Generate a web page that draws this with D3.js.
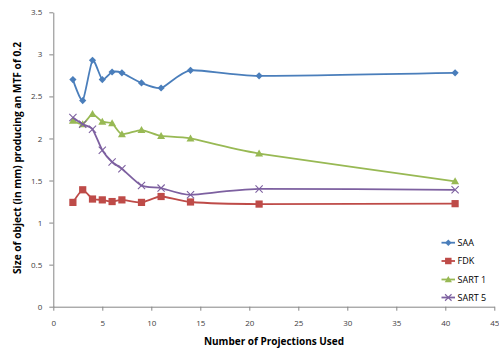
<!DOCTYPE html>
<html>
<head>
<meta charset="utf-8">
<script src="https://cdn.jsdelivr.net/npm/d3@7"></script>
<style>
  html, body { margin: 0; padding: 0; background: #fff; }
  svg { display: block; }
  text { font-family: "Open Sans", "Liberation Sans", sans-serif; }
</style>
</head>
<body>
<svg id="chart" width="499" height="356"></svg>
<script>
// Number of projections used (x values shared by every series)
const projections = [2, 3, 4, 5, 6, 7, 9, 11, 14, 21, 41];

// Object size (mm) giving an MTF of 0.2, per reconstruction method
const saa   = [2.70, 2.45, 2.93, 2.70, 2.79, 2.78, 2.66, 2.60, 2.81, 2.745, 2.78];
const fdk   = [1.24, 1.39, 1.28, 1.27, 1.25, 1.27, 1.24, 1.31, 1.245, 1.22, 1.225];
const sart1 = [2.21, 2.17, 2.29, 2.20, 2.18, 2.05, 2.10, 2.03, 2.00, 1.82, 1.49];
const sart5 = [2.25, 2.17, 2.11, 1.86, 1.72, 1.64, 1.44, 1.41, 1.33, 1.40, 1.39];

const seriesNames = ["SAA", "FDK", "SART 1", "SART 5"];
const xTicks = [0, 5, 10, 15, 20, 25, 30, 35, 40, 45];
const yTicks = [0, 0.5, 1, 1.5, 2, 2.5, 3, 3.5];

const series = [
  { name: seriesNames[0], values: saa,   color: "#4a7ebb", marker: "diamond" },
  { name: seriesNames[1], values: fdk,   color: "#be4b48", marker: "square" },
  { name: seriesNames[2], values: sart1, color: "#98b954", marker: "triangle" },
  { name: seriesNames[3], values: sart5, color: "#7d60a0", marker: "cross" }
];

const svg = d3.select("#chart");
const x = d3.scaleLinear().domain([0, 45]).range([53.3, 494.3]);
const y = d3.scaleLinear().domain([0, 3.5]).range([306.7, 12.3]);
const axisColor = "#868686";

// Axes
const xAxis = svg.append("g")
  .attr("transform", `translate(0,${y(0)})`)
  .call(d3.axisBottom(x).tickValues(xTicks).tickFormat(d3.format("d")).tickSize(4).tickSizeOuter(0));
const yAxis = svg.append("g")
  .attr("transform", `translate(${x(0)},0)`)
  .call(d3.axisLeft(y).tickValues(yTicks).tickFormat(d => String(d)).tickSize(4).tickSizeOuter(0));

[xAxis, yAxis].forEach(g => {
  g.select(".domain").attr("stroke", axisColor);
  g.selectAll(".tick line").attr("stroke", axisColor);
  g.selectAll(".tick text")
    .attr("fill", "#404040")
    .style("font-size", "8px")
    .style("font-family", "\"Open Sans\", sans-serif");
});
xAxis.selectAll(".tick text").attr("dy", "1.55em");
yAxis.selectAll(".tick text").attr("dx", "-0.5em");

// Axis titles
svg.append("text")
  .attr("x", 274).attr("y", 345)
  .attr("text-anchor", "middle")
  .attr("fill", "#000")
  .style("font-weight", "bold").style("font-size", "10px")
  .text("Number of Projections Used");

svg.append("text")
  .attr("transform", "translate(21,158) rotate(-90)")
  .attr("text-anchor", "middle")
  .attr("fill", "#000")
  .style("font-weight", "bold").style("font-size", "10.2px")
  .text("Size of object (in mm) producing an MTF of 0.2");

// Marker drawing helper
function drawMarker(g, type, color, cx, cy, scale) {
  const s = scale || 1;
  if (type === "diamond") {
    const r = 3.6 * s;
    g.append("path")
      .attr("d", `M${cx},${cy - r}L${cx + r},${cy}L${cx},${cy + r}L${cx - r},${cy}Z`)
      .attr("fill", color);
  } else if (type === "square") {
    const h = 3.6 * s;
    g.append("rect")
      .attr("x", cx - h).attr("y", cy - h)
      .attr("width", 2 * h).attr("height", 2 * h)
      .attr("fill", color);
  } else if (type === "triangle") {
    const r = 4 * s;
    g.append("path")
      .attr("d", `M${cx},${cy - r}L${cx + r},${cy + r * 0.75}L${cx - r},${cy + r * 0.75}Z`)
      .attr("fill", color);
  } else {
    const r = 3.6 * s;
    g.append("path")
      .attr("d", `M${cx - r},${cy - r}L${cx + r},${cy + r}M${cx - r},${cy + r}L${cx + r},${cy - r}`)
      .attr("stroke", color).attr("stroke-width", 1.1).attr("fill", "none");
  }
}

// Smoothed series lines with markers
const line = d3.line()
  .x((d, i) => x(projections[i]))
  .y(d => y(d))
  .curve(d3.curveCardinal.tension(0.4));

series.forEach(s => {
  svg.append("path")
    .datum(s.values)
    .attr("d", line)
    .attr("fill", "none")
    .attr("stroke", s.color)
    .attr("stroke-width", 1.8);
  const g = svg.append("g");
  s.values.forEach((v, i) => drawMarker(g, s.marker, s.color, x(projections[i]), y(v)));
});

// Legend
const legendY = [242.7, 261, 279.5, 297.5];
series.forEach((s, i) => {
  const ly = legendY[i];
  svg.append("line")
    .attr("x1", 441.5).attr("x2", 455)
    .attr("y1", ly).attr("y2", ly)
    .attr("stroke", s.color).attr("stroke-width", 1.8);
  drawMarker(svg, s.marker, s.color, 448.3, ly, 0.9);
  svg.append("text")
    .attr("x", 457.5).attr("y", ly + 3.2)
    .attr("fill", "#000")
    .style("font-size", "9px")
    .text(s.name);
});
</script>
</body>
</html>
